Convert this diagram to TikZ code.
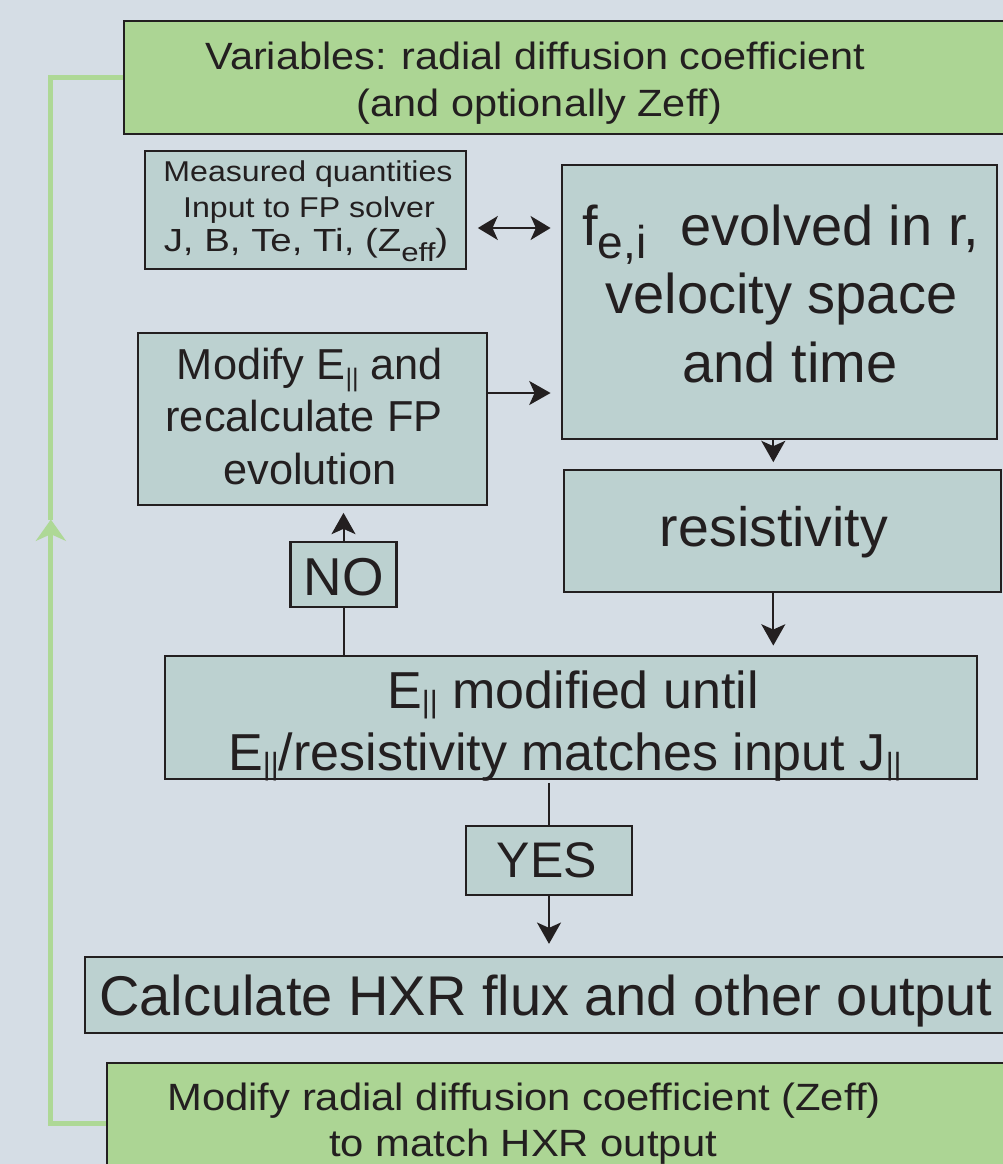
\documentclass[tikz,border=0pt]{standalone}
\usepackage{fontspec}
\setmainfont{Liberation Sans}
\usepackage{graphicx}
\usetikzlibrary{arrows.meta,fit,calc}
\pgfdeclarelayer{bglayer}
\pgfdeclarelayer{behind}
\pgfsetlayers{bglayer,behind,main}
\definecolor{bgc}{RGB}{213,221,229}
\definecolor{tfill}{RGB}{188,209,208}
\definecolor{grn}{RGB}{172,213,148}
\definecolor{gline}{RGB}{174,216,150}
\definecolor{ink}{RGB}{35,31,32}
\newcommand\fs[1]{\fontsize{#1}{#1}\selectfont}
\newcommand\sx[2]{\scalebox{#1}[1]{#2}}
\begin{document}
\begin{tikzpicture}[x=0.75pt,y=-0.75pt,
  tbox/.style={draw=ink, line width=1.7pt, fill=tfill, inner sep=0pt},
  gbox/.style={draw=ink, line width=1.7pt, fill=grn, inner sep=0pt},
  txt/.style={text=ink, inner sep=0pt, anchor=base},
  conn/.style={draw=ink, line width=1.5pt},
  arr/.style={conn, -{Stealth[length=16pt,width=18pt,inset=4pt]}},
  darr/.style={conn, {Stealth[length=15pt,width=18pt,inset=4pt]}-{Stealth[length=15pt,width=18pt,inset=4pt]}},
  gconn/.style={draw=gline, line width=3.75pt},
  garr/.style={gconn, -{Stealth[length=16pt,width=22.5pt,inset=5pt]}}]
\useasboundingbox (0,0) rectangle (1003,1164);
\begin{pgfonlayer}{bglayer}
\fill[bgc] (0,0) rectangle (1003,1164);
\end{pgfonlayer}

% boxes
\node[gbox, fit={(124,21)(1012,134)}] (vars) {};
\node[tbox, fit={(145,151)(466,269)}] (meas) {};
\node[tbox, fit={(562,165)(997,439)}] (fe) {};
\node[tbox, fit={(138,333)(487,505)}] (mod) {};
\node[tbox, fit={(564,470)(1001,592)}] (res) {};
\node[tbox, fit={(290.5,542)(396.5,607)}] (nobox) {};
\node[tbox, fit={(165,656)(977,779)}] (emod) {};
\node[tbox, fit={(466,826)(632,895)}] (yesbox) {};
\node[tbox, fit={(85,957)(1012,1033)}] (calc) {};
\node[gbox, fit={(107,1063)(1012,1183)}] (bot) {};

% green feedback connector
\begin{pgfonlayer}{behind}
\coordinate (gtip) at ($(vars.west)+(-72,442)$);
\draw[garr] (bot.west) -| (gtip);
\draw[gconn] (gtip) |- (vars.west);
\end{pgfonlayer}

% connectors
\draw[darr] ($(meas.east)+(10.7,18)$) -- ($(fe.west)+(-10.3,-74)$);
\draw[arr] ($(mod.east)+(0,-26)$) -- ($(fe.west)+(-10.3,91)$);
\draw[arr] ($(fe.south)+(-6.2,0)$) -- ($(res.north)+(-9.2,-6.7)$);
\draw[arr] ($(res.south)+(-9.2,0)$) -- ($(res.south |- emod.north)+(-9.2,-9.3)$);
\draw[conn] (nobox.south) -- (nobox.south |- emod.north);
\draw[arr] (nobox.north) -- ($(nobox.north |- mod.south)+(0,6.7)$);
\draw[conn] ($(yesbox.north |- emod.south)+(0,2.7)$) -- (yesbox.north);
\draw[arr] (yesbox.south) -- ($(yesbox.south |- calc.north)+(0,-12)$);

% texts
\node[txt, font=\fs{28.5pt}] (vars1) at (535.5,69) {\sx{1.09}{Variables: radial diffusion coefficient}};
\node[txt, font=\fs{28.5pt}] (vars2) at (539.5,116) {\sx{1.09}{(and optionally Zeff)}};
\node[txt, font=\fs{21.5pt}] (meas1) at (308,181.5) {\sx{1.12}{Measured quantities}};
\node[txt, font=\fs{21.5pt}] (meas2) at (309,217) {\sx{1.12}{Input to FP solver}};
\node[txt, font=\fs{24pt}] (meas3) at (306,251) {\sx{1.2}{J, B, Te, Ti, (Z\raisebox{-8pt}{\fs{19.5pt}eff})}};
\node[txt, font=\fs{42pt}, anchor=base west] (fe1) at (582,245) {f\raisebox{-9.75pt}{\fs{34.5pt}e,i}\hspace{25.5pt}evolved in r,};
\node[txt, font=\fs{42pt}] (fe2) at (781.5,313) {velocity space};
\node[txt, font=\fs{42pt}] (fe3) at (790,382) {and time};
\node[txt, font=\fs{32.5pt}] (mod1) at (310,379.3) {Modify E\raisebox{-5.7pt}{\fs{19pt}||} and};
\node[txt, font=\fs{32.5pt}] (mod2) at (304,431.7) {recalculate FP};
\node[txt, font=\fs{32.5pt}] (mod3) at (310,484) {evolution};
\node[txt, font=\fs{41.6pt}] (res1) at (774,546.7) {resistivity};
\node[txt, font=\fs{40pt}] (no1) at (343.5,595) {NO};
\node[txt, font=\fs{39pt}] (emod1) at (573,708.3) {E\raisebox{-3pt}{\fs{23pt}||} modified until};
\node[txt, font=\fs{39pt}] (emod2) at (565,770) {E\raisebox{-3pt}{\fs{23pt}||}/resistivity matches input J\raisebox{-3pt}{\fs{23pt}||}};
\node[txt, font=\fs{37.5pt}] (yes1) at (547,877.3) {YES};
\node[txt, font=\fs{42pt}] (calc1) at (546,1015) {Calculate HXR flux and other output};
\node[txt, font=\fs{28.5pt}] (bot1) at (524,1110) {\sx{1.1}{Modify radial diffusion coefficient (Zeff)}};
\node[txt, font=\fs{28.5pt}] (bot2) at (523,1156.7) {\sx{1.1}{to match HXR output}};
\end{tikzpicture}
\end{document}
